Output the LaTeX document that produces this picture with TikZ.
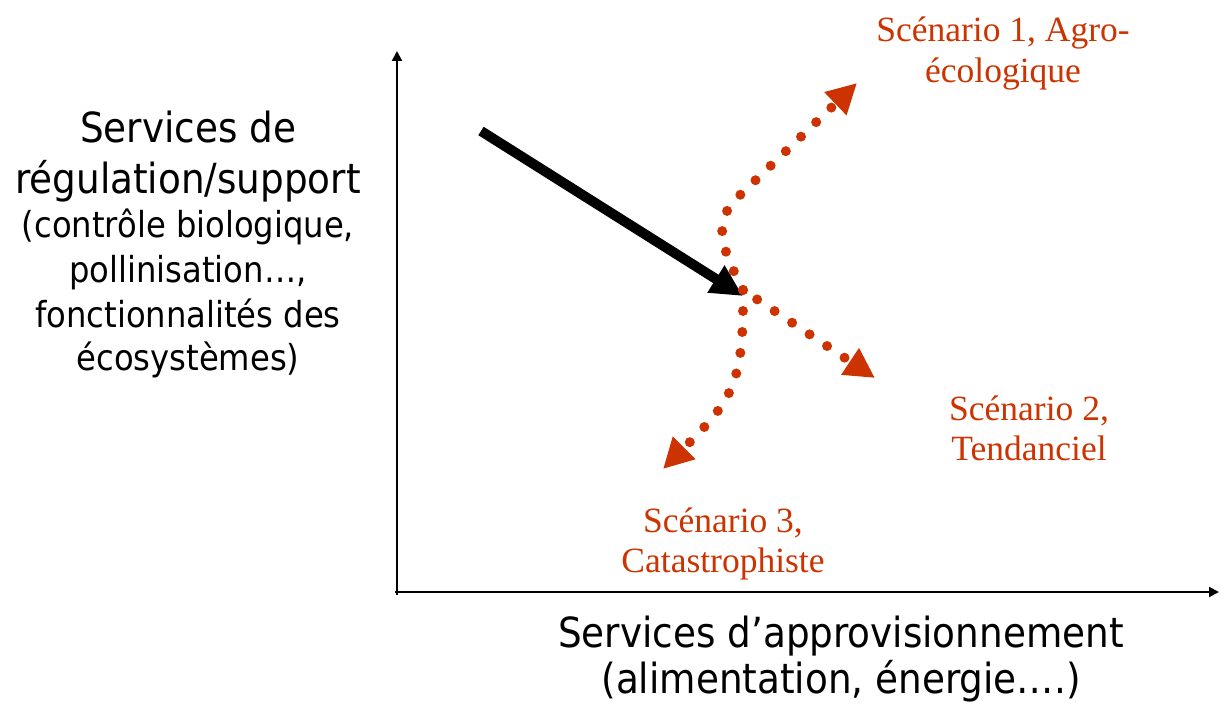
\documentclass[tikz,border=0pt]{standalone}
\usepackage{fontspec}
\setmainfont{Liberation Serif}
\newfontfamily\tah{DejaVu Sans Condensed}
\usetikzlibrary{arrows.meta}
\definecolor{scen}{RGB}{204,51,0}
\tikzset{
  axis/.style={line width=2pt,-{Triangle[length=10pt,width=10pt]}},
  trend/.style={line width=10pt,-{Triangle[length=32pt,width=30pt]}},
  scenpath/.style={scen,line width=10pt,line cap=round,dash pattern=on 0pt off 21pt,-{Triangle[length=30pt,width=30pt]}},
  bigtxt/.style={anchor=base,font=\tah\fontsize{41.5}{48}\selectfont,inner sep=0pt},
  smalltxt/.style={anchor=base,font=\tah\fontsize{35.8}{44}\selectfont,inner sep=0pt},
  scentxt/.style={anchor=base,text=scen,font=\fontsize{35.5}{42}\selectfont,inner sep=0pt}
}
\begin{document}
\begin{tikzpicture}[x=1pt,y=-1pt]
\useasboundingbox (0,0) rectangle (1220,717);
% axes
\coordinate (O) at (397,592);
\coordinate (Ytop) at (397,51);
\coordinate (Xend) at (1219,592);
\coordinate (Obot) at (397,595);
\draw[axis] (Obot) -- (Ytop);
\draw[axis] (395,592) coordinate (Oleft) -- (Xend);
% black trend arrow
\coordinate (T0) at (481,131);
\coordinate (T1) at (743,296);
\draw[trend] (T0) -- (T1);
% scenario paths
\coordinate (C) at (743,290);
\coordinate (K1) at (738,197);
\coordinate (S1) at (857,83);
\coordinate (S2) at (875,378);
\coordinate (S3) at (663,469);
\draw[scenpath] (C) .. controls (721,247) and (712,222) .. (K1) -- (S1);
\draw[scenpath,dash phase=4pt] (C) -- (S2);
\draw[scenpath] (C) .. controls (744,385) and (732,400) .. (S3);
% left label
\node[bigtxt] (l1) at (188,142) {Services de};
\node[bigtxt] (l2) at (188,193) {régulation/support};
\node[smalltxt] (l3) at (188,237) {(contrôle biologique,};
\node[smalltxt] (l4) at (188,282) {pollinisation…,};
\node[smalltxt] (l5) at (188,327) {fonctionnalités des};
\node[smalltxt] (l6) at (188,370) {écosystèmes)};
% bottom label
\node[bigtxt] (b1) at (841,647) {Services d’approvisionnement};
\node[bigtxt] (b2) at (841,693) {(alimentation, énergie….)};
% scenario labels
\node[scentxt] (s1a) at (1003,42) {Scénario 1, Agro-};
\node[scentxt] (s1b) at (1003,82) {écologique};
\node[scentxt] (s2a) at (1029,420) {Scénario 2,};
\node[scentxt] (s2b) at (1029,460) {Tendanciel};
\node[scentxt] (s3a) at (723,532) {Scénario 3,};
\node[scentxt] (s3b) at (723,572) {Catastrophiste};
\end{tikzpicture}
\end{document}
